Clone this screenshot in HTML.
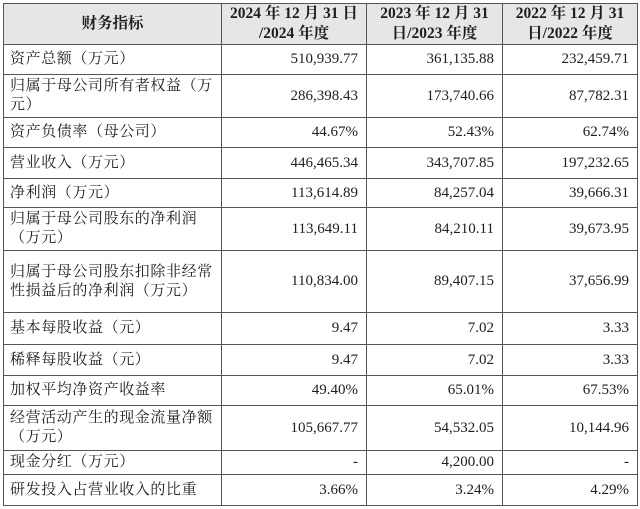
<!DOCTYPE html>
<html><head><meta charset="utf-8"><style>
body{margin:0;background:#fff;width:640px;height:509px;overflow:hidden}
table{position:absolute;left:3px;top:3px;border-collapse:collapse;table-layout:fixed;font-family:"Liberation Serif","Noto Serif CJK SC",serif;font-size:15px;color:#1e1e1e}
td{border:1.5px solid #555;padding:0 8px;line-height:19px;vertical-align:middle}
td.l{text-align:left;padding-left:6px;padding-right:4px;letter-spacing:0.6px}
td.n{text-align:right}
tr.h td{background:#e6e6e6;font-weight:bold;text-align:center;line-height:20px;font-size:15.5px}
</style></head><body>
<table>
<colgroup><col style="width:218px"><col style="width:145px"><col style="width:136px"><col style="width:135px"></colgroup>
<tr class="h" style="height:41px"><td>财务指标</td><td>2024 年 12 月 31 日<br>/2024 年度</td><td>2023 年 12 月 31<br>日/2023 年度</td><td>2022 年 12 月 31<br>日/2022 年度</td></tr>
<tr style="height:30px"><td class="l">资产总额（万元）</td><td class="n">510,939.77</td><td class="n">361,135.88</td><td class="n">232,459.71</td></tr>
<tr style="height:43px"><td class="l">归属于母公司所有者权益（万<br>元）</td><td class="n">286,398.43</td><td class="n">173,740.66</td><td class="n">87,782.31</td></tr>
<tr style="height:30px"><td class="l">资产负债率（母公司）</td><td class="n">44.67%</td><td class="n">52.43%</td><td class="n">62.74%</td></tr>
<tr style="height:31px"><td class="l">营业收入（万元）</td><td class="n">446,465.34</td><td class="n">343,707.85</td><td class="n">197,232.65</td></tr>
<tr style="height:29px"><td class="l">净利润（万元）</td><td class="n">113,614.89</td><td class="n">84,257.04</td><td class="n">39,666.31</td></tr>
<tr style="height:43px"><td class="l">归属于母公司股东的净利润<br>（万元）</td><td class="n">113,649.11</td><td class="n">84,210.11</td><td class="n">39,673.95</td></tr>
<tr style="height:62px"><td class="l">归属于母公司股东扣除非经常<br>性损益后的净利润（万元）</td><td class="n">110,834.00</td><td class="n">89,407.15</td><td class="n">37,656.99</td></tr>
<tr style="height:32px"><td class="l">基本每股收益（元）</td><td class="n">9.47</td><td class="n">7.02</td><td class="n">3.33</td></tr>
<tr style="height:31px"><td class="l">稀释每股收益（元）</td><td class="n">9.47</td><td class="n">7.02</td><td class="n">3.33</td></tr>
<tr style="height:30px"><td class="l">加权平均净资产收益率</td><td class="n">49.40%</td><td class="n">65.01%</td><td class="n">67.53%</td></tr>
<tr style="height:45px"><td class="l">经营活动产生的现金流量净额<br>（万元）</td><td class="n">105,667.77</td><td class="n">54,532.05</td><td class="n">10,144.96</td></tr>
<tr style="height:24px"><td class="l">现金分红（万元）</td><td class="n">-</td><td class="n">4,200.00</td><td class="n">-</td></tr>
<tr style="height:31px"><td class="l">研发投入占营业收入的比重</td><td class="n">3.66%</td><td class="n">3.24%</td><td class="n">4.29%</td></tr>
</table>
</body></html>
